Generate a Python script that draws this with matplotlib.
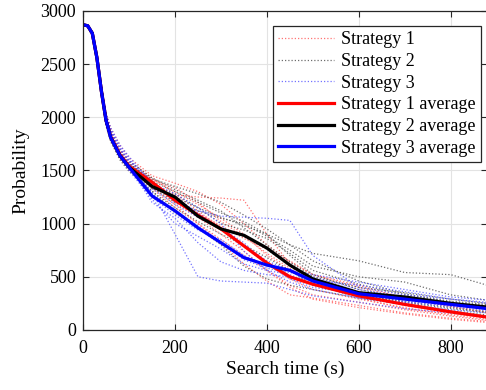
import matplotlib.pyplot as plt

plt.rcParams["font.family"] = ["Liberation Serif", "DejaVu Serif"]

# sample times (s)
t = [0, 10, 20, 30, 40, 50, 60, 80, 100, 150, 200, 250, 300, 350, 400, 450, 500, 600, 700, 800, 880]

# strategy 1 runs
s1_runs = [
    [2870, 2860, 2800, 2580, 2280, 2010, 1870, 1700, 1580, 1420, 1300, 1180, 1050, 900, 700, 560, 450, 330, 230, 160, 110],
    [2870, 2855, 2780, 2540, 2220, 1950, 1800, 1640, 1530, 1380, 1270, 1250, 1240, 1220, 900, 620, 480, 360, 260, 180, 130],
    [2870, 2860, 2790, 2560, 2250, 1980, 1830, 1660, 1550, 1330, 1150, 1000, 850, 700, 560, 420, 330, 260, 190, 130, 90],
    [2870, 2860, 2800, 2590, 2300, 2040, 1900, 1740, 1620, 1450, 1380, 1300, 1180, 1000, 800, 640, 520, 420, 300, 220, 170],
    [2870, 2850, 2770, 2530, 2200, 1930, 1780, 1610, 1500, 1340, 1180, 1000, 820, 620, 460, 330, 300, 230, 160, 110, 80],
    [2870, 2860, 2790, 2570, 2260, 1990, 1850, 1680, 1560, 1400, 1230, 1100, 980, 860, 760, 650, 520, 400, 300, 220, 160],
    [2870, 2860, 2800, 2580, 2270, 2000, 1860, 1700, 1590, 1430, 1280, 1120, 960, 780, 620, 480, 380, 290, 210, 140, 100],
    [2870, 2855, 2780, 2550, 2230, 1960, 1810, 1650, 1540, 1370, 1200, 1060, 900, 740, 560, 400, 290, 210, 150, 100, 70],
    [2870, 2860, 2790, 2560, 2240, 1970, 1820, 1660, 1560, 1410, 1340, 1200, 1020, 880, 720, 580, 460, 300, 200, 150, 120],
]

# strategy 2 runs
s2_runs = [
    [2870, 2860, 2790, 2560, 2240, 1960, 1800, 1630, 1520, 1330, 1250, 1150, 1060, 980, 900, 800, 720, 650, 540, 520, 420],
    [2870, 2860, 2800, 2580, 2270, 1990, 1840, 1660, 1550, 1400, 1300, 1200, 1100, 1020, 900, 700, 520, 380, 300, 240, 200],
    [2870, 2855, 2780, 2540, 2210, 1940, 1790, 1620, 1500, 1300, 1150, 1020, 900, 800, 680, 560, 420, 320, 270, 210, 170],
    [2870, 2860, 2790, 2570, 2250, 1980, 1830, 1670, 1560, 1420, 1350, 1280, 1200, 1080, 950, 800, 650, 460, 340, 260, 230],
    [2870, 2860, 2800, 2590, 2290, 2020, 1880, 1700, 1590, 1430, 1320, 1220, 1120, 960, 800, 640, 500, 400, 350, 290, 250],
    [2870, 2850, 2770, 2530, 2190, 1920, 1770, 1600, 1490, 1310, 1100, 960, 800, 600, 480, 420, 380, 300, 240, 180, 140],
    [2870, 2860, 2790, 2560, 2250, 1970, 1820, 1650, 1540, 1360, 1280, 1150, 1000, 940, 860, 720, 560, 430, 330, 270, 240],
    [2870, 2860, 2800, 2570, 2260, 1990, 1850, 1680, 1570, 1390, 1230, 1080, 950, 880, 760, 600, 470, 330, 260, 200, 160],
    [2870, 2855, 2790, 2550, 2230, 1950, 1800, 1640, 1530, 1340, 1200, 1120, 1050, 1000, 880, 750, 600, 500, 450, 330, 280],
]

# strategy 3 runs
s3_runs = [
    [2870, 2860, 2800, 2580, 2270, 2000, 1860, 1700, 1590, 1400, 1200, 1120, 1070, 1060, 1050, 1030, 700, 400, 330, 290, 250],
    [2870, 2855, 2780, 2550, 2230, 1960, 1810, 1640, 1520, 1300, 900, 500, 460, 450, 440, 380, 320, 260, 200, 160, 130],
    [2870, 2860, 2790, 2560, 2250, 1980, 1830, 1660, 1540, 1200, 1050, 820, 640, 560, 520, 500, 470, 420, 360, 290, 260],
    [2870, 2860, 2800, 2590, 2290, 2020, 1880, 1720, 1610, 1350, 1250, 1100, 950, 800, 650, 560, 480, 360, 300, 250, 210],
    [2870, 2860, 2790, 2570, 2260, 1990, 1840, 1670, 1560, 1280, 1120, 980, 820, 660, 580, 540, 500, 380, 310, 260, 220],
    [2870, 2850, 2770, 2540, 2210, 1940, 1790, 1620, 1500, 1230, 1000, 880, 760, 620, 560, 520, 430, 300, 240, 190, 160],
    [2870, 2860, 2800, 2590, 2300, 2040, 1900, 1740, 1630, 1380, 1280, 1150, 1000, 740, 560, 450, 380, 300, 260, 220, 180],
    [2870, 2855, 2790, 2560, 2240, 1970, 1820, 1650, 1530, 1250, 1080, 940, 850, 700, 600, 560, 520, 450, 380, 310, 280],
    [2870, 2860, 2800, 2570, 2270, 2010, 1870, 1700, 1580, 1330, 1180, 1060, 960, 820, 620, 480, 400, 340, 270, 230, 200],
]

# averages over runs
s1_avg = [2870, 2860, 2790, 2560, 2240, 1970, 1820, 1650, 1540, 1390, 1220, 1080, 950, 790, 630, 500, 430, 320, 240, 170, 120]
s2_avg = [2870, 2860, 2790, 2560, 2240, 1970, 1810, 1640, 1530, 1350, 1250, 1070, 950, 890, 770, 610, 480, 350, 310, 250, 215]
s3_avg = [2870, 2860, 2790, 2560, 2240, 1970, 1810, 1640, 1530, 1260, 1120, 960, 820, 680, 610, 560, 460, 340, 290, 240, 200]

labels = ["Strategy 1", "Strategy 2", "Strategy 3",
          "Strategy 1 average", "Strategy 2 average", "Strategy 3 average"]

fig = plt.figure(figsize=(4.86, 3.9), dpi=100)
ax = fig.add_axes([0.171, 0.154, 0.832, 0.818])

run_styles = [(s1_runs, "#ff5a5a"), (s2_runs, "#555555"), (s3_runs, "#5a5aff")]
handles = []
for runs, color in run_styles:
    for i, y in enumerate(runs):
        ln, = ax.plot(t, y, ls=(0, (1, 1.6)), lw=0.9, color=color, alpha=0.85)
        if i == 0:
            handles.append(ln)

for y, color in [(s1_avg, "red"), (s2_avg, "black"), (s3_avg, "blue")]:
    ln, = ax.plot(t, y, lw=2.3, color=color)
    handles.append(ln)

ax.set_xlim(0, 880)
ax.set_ylim(0, 3000)
ax.set_xticks([0, 200, 400, 600, 800])
ax.set_yticks(range(0, 3001, 500))
ax.grid(True, color="#e3e3e3", lw=0.8)
ax.set_axisbelow(True)
ax.tick_params(direction="in", top=True, right=True, labelsize=13, length=4,
               color="#262626", width=0.8)
ax.tick_params(axis="x", pad=7)
ax.tick_params(axis="y", pad=5)
for sp in ax.spines.values():
    sp.set_color("#262626")
    sp.set_linewidth(0.9)

ax.set_xlabel("Search time (s)", fontsize=14, labelpad=3)
ax.set_ylabel("Probability", fontsize=14, labelpad=8)

leg = ax.legend(handles, labels, loc="upper right", bbox_to_anchor=(0.985, 0.953),
                borderaxespad=0, fontsize=13, handlelength=3.1, handletextpad=0.4,
                labelspacing=0.26, borderpad=0.3, fancybox=False, framealpha=1)
leg.get_frame().set_edgecolor("#262626")
leg.get_frame().set_linewidth(0.9)

fig.savefig("out.png", dpi=100)
